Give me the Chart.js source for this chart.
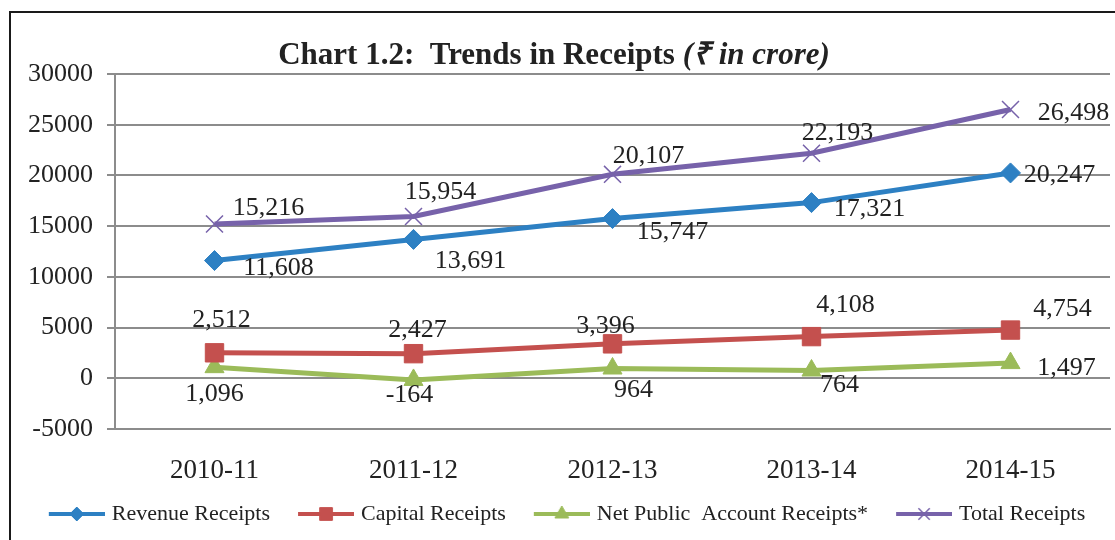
<!DOCTYPE html>
<html>
<head>
<meta charset="utf-8">
<script src="https://cdn.jsdelivr.net/npm/chart.js@4.4.0/dist/chart.umd.min.js"></script>
<style>
  html, body { margin: 0; padding: 0; background: #fff; }
  #wrap { width: 1115px; height: 540px; }
</style>
</head>
<body>
<div id="wrap"><canvas id="myChart" width="1115" height="540"></canvas></div>
<script>
const years = ['2010-11', '2011-12', '2012-13', '2013-14', '2014-15'];
const revenueReceipts = [11608, 13691, 15747, 17321, 20247];
const capitalReceipts = [2512, 2427, 3396, 4108, 4754];
const netPublicReceipts = [1096, -164, 964, 764, 1497];
const totalReceipts = [15216, 15954, 20107, 22193, 26498];
const yMin = -5000, yMax = 30000, yStep = 5000;

// where each value label sits relative to its point (dx, dy)
const labelOffsets = [
  [[64, 8], [57, 22], [60, 14], [58, 7], [49, 2]],
  [[7, -33], [4, -23], [-7, -18], [34, -31], [52, -21]],
  [[0, 27], [-4, 15], [21, 22], [28, 15], [56, 5]],
  [[54, -16], [27, -24], [36, -18], [26, -20], [63, 4]]
];

const serif = "'Liberation Serif', 'Times New Roman', serif";
const textColor = '#222';
const gridColor = '#8c8c8c';

const blue = '#2D80C3', red = '#C4504E', green = '#9BBB59', purple = '#7762AA';

// legend marker: a short line with the point style in the middle,
// drawn on the right part of a wider canvas so the items spread out
function legendIcon(color, style, radius) {
  const c = document.createElement('canvas');
  c.width = 84; c.height = 22;
  const ctx = c.getContext('2d');
  ctx.strokeStyle = color;
  ctx.lineWidth = 4;
  ctx.beginPath();
  ctx.moveTo(28, 11); ctx.lineTo(84, 11);
  ctx.stroke();
  ctx.fillStyle = color;
  ctx.lineWidth = style === 'crossRot' ? 1.5 : 1;
  Chart.helpers.drawPoint(ctx, { pointStyle: style, radius: radius, rotation: 0, borderWidth: ctx.lineWidth }, 56, 11);
  return c;
}

const frame = {
  id: 'frame',
  beforeDraw(chart) {
    const ctx = chart.ctx;
    ctx.save();
    ctx.fillStyle = '#fff';
    ctx.fillRect(0, 0, chart.width, chart.height);
    ctx.strokeStyle = '#1a1a1a';
    ctx.lineWidth = 2;
    ctx.beginPath();
    ctx.moveTo(10, chart.height);
    ctx.lineTo(10, 12);
    ctx.lineTo(chart.width, 12);
    ctx.stroke();
    ctx.restore();
  }
};

const titlePlugin = {
  id: 'mixedTitle',
  afterDraw(chart) {
    const ctx = chart.ctx;
    const partA = 'Chart 1.2:  Trends in Receipts ';
    const partB = '(\u20B9 in crore)';
    const fontA = 'bold 31px ' + serif;
    const fontB = 'italic bold 31px ' + serif;
    ctx.save();
    ctx.fillStyle = textColor;
    ctx.textBaseline = 'alphabetic';
    ctx.font = fontA;
    const wA = ctx.measureText(partA).width;
    ctx.font = fontB;
    const wB = ctx.measureText(partB).width;
    let x = 554 - (wA + wB) / 2;
    ctx.font = fontA;
    ctx.fillText(partA, x, 64);
    ctx.font = fontB;
    ctx.fillText(partB, x + wA, 64);
    ctx.restore();
  }
};

const valueLabels = {
  id: 'valueLabels',
  afterDatasetsDraw(chart) {
    const ctx = chart.ctx;
    ctx.save();
    ctx.font = '26px ' + serif;
    ctx.fillStyle = textColor;
    ctx.textAlign = 'center';
    ctx.textBaseline = 'middle';
    chart.data.datasets.forEach((ds, i) => {
      const meta = chart.getDatasetMeta(i);
      meta.data.forEach((pt, j) => {
        const off = labelOffsets[i][j];
        ctx.fillText(ds.data[j].toLocaleString('en-US'), pt.x + off[0], pt.y + off[1]);
      });
    });
    ctx.restore();
  }
};

const icons = [
  legendIcon(blue, 'rectRot', 7),
  legendIcon(red, 'rect', 9),
  legendIcon(green, 'triangle', 8),
  legendIcon(purple, 'crossRot', 8)
];

const ctx = document.getElementById('myChart').getContext('2d');
const myChart = new Chart(ctx, {
  type: 'line',
  data: {
    labels: years,
    datasets: [
      {
        label: 'Revenue Receipts',
        data: revenueReceipts,
        borderColor: blue, backgroundColor: blue,
        borderWidth: 5, pointStyle: 'rectRot', pointRadius: 10, pointBorderWidth: 1
      },
      {
        label: 'Capital Receipts',
        data: capitalReceipts,
        borderColor: red, backgroundColor: red,
        borderWidth: 5, pointStyle: 'rect', pointRadius: 13, pointBorderWidth: 1
      },
      {
        label: 'Net Public  Account Receipts*',
        data: netPublicReceipts,
        borderColor: green, backgroundColor: green,
        borderWidth: 5, pointStyle: 'triangle', pointRadius: 11, pointBorderWidth: 1
      },
      {
        label: 'Total Receipts',
        data: totalReceipts,
        borderColor: purple, backgroundColor: purple,
        borderWidth: 5, pointStyle: 'crossRot', pointRadius: 12, pointBorderWidth: 1.5
      }
    ]
  },
  options: {
    responsive: false,
    animation: false,
    layout: { autoPadding: false, padding: { top: 74, left: 0, right: 5, bottom: 5 } },
    plugins: {
      title: { display: false },
      tooltip: { enabled: false },
      legend: {
        position: 'bottom',
        labels: {
          font: { family: serif, size: 22 },
          color: textColor,
          usePointStyle: true,
          pointStyleWidth: 76,
          padding: 4,
          generateLabels(chart) {
            return chart.data.datasets.map((ds, i) => ({
              text: ds.label,
              pointStyle: icons[i],
              fillStyle: ds.borderColor,
              strokeStyle: ds.borderColor,
              fontColor: textColor,
              lineWidth: 0,
              datasetIndex: i
            }));
          }
        }
      }
    },
    scales: {
      x: {
        offset: true,
        grid: { display: false, drawTicks: false },
        border: { display: true, color: gridColor, width: 2 },
        ticks: { font: { family: serif, size: 27 }, color: textColor, padding: 26, maxRotation: 0 },
        afterFit(scale) { scale.height = 70; }
      },
      y: {
        min: yMin, max: yMax,
        ticks: {
          stepSize: yStep, font: { family: serif, size: 26 }, color: textColor, padding: 14,
          callback: v => String(v)
        },
        grid: { color: gridColor, lineWidth: 2, tickLength: 8 },
        border: { display: true, color: gridColor, width: 2 },
        afterFit(scale) { scale.width = 115; }
      }
    }
  },
  plugins: [frame, valueLabels, titlePlugin]
});
</script>
</body>
</html>
